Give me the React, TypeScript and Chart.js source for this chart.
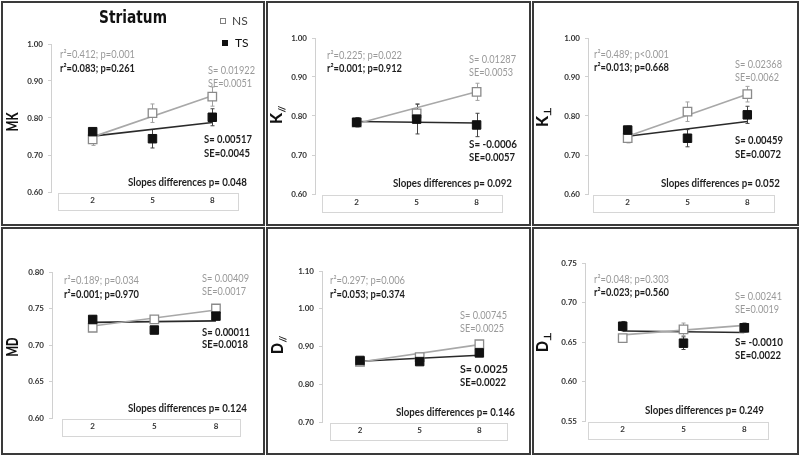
import React, { useEffect, useRef } from "react";
import { Chart, registerables } from "chart.js";

Chart.register(...registerables);

// ---------- data ----------
const ages = [2, 5, 8];

const mkNS = [0.742, 0.813, 0.858];
const mkNSErr = [0.016, 0.025, 0.026];
const mkTS = [0.763, 0.744, 0.802];
const mkTSErr = [0.01, 0.025, 0.023];
const mkNSTrend = [0.749, 0.86];
const mkTSTrend = [0.751, 0.788];

const kparNS = [0.783, 0.807, 0.862];
const kparNSErr = [0.012, 0.025, 0.022];
const kparTS = [0.784, 0.792, 0.777];
const kparTSErr = [0.012, 0.038, 0.03];
const kparNSTrend = [0.78, 0.862];
const kparTSTrend = [0.786, 0.782];

const kperpNS = [0.743, 0.811, 0.856];
const kperpNSErr = [0.012, 0.025, 0.02];
const kperpTS = [0.764, 0.743, 0.803];
const kperpTSErr = [0.01, 0.022, 0.022];
const kperpNSTrend = [0.748, 0.856];
const kperpTSTrend = [0.748, 0.786];

const mdNS = [0.7236, 0.735, 0.75];
const mdNSErr = [0.004, 0.004, 0.005];
const mdTS = [0.735, 0.7205, 0.7396];
const mdTSErr = [0.005, 0.004, 0.004];
const mdNSTrend = [0.726, 0.748];
const mdTSTrend = [0.731, 0.733];

const dparNS = [0.859, 0.872, 0.906];
const dparNSErr = [0.005, 0.006, 0.008];
const dparTS = [0.863, 0.86, 0.883];
const dparTSErr = [0.006, 0.005, 0.006];
const dparNSTrend = [0.859, 0.905];
const dparTSTrend = [0.861, 0.877];

const dperpNS = [0.655, 0.666, 0.668];
const dperpNSErr = [0.004, 0.008, 0.005];
const dperpTS = [0.67, 0.6485, 0.668];
const dperpTSErr = [0.006, 0.008, 0.006];
const dperpNSTrend = [0.659, 0.671];
const dperpTSTrend = [0.664, 0.662];

const yTitleMain = ["MK", "K", "K", "MD", "D", "D"];
const yTitleSub = ["", "//", "⊥", "", "//", "⊥"];

const r2NSLabels = ["r²=0.412; p=0.001", "r²=0.225; p=0.022", "r²=0.489; p<0.001", "r²=0.189; p=0.034", "r²=0.297; p=0.006", "r²=0.048; p=0.303"];
const r2TSLabels = ["r²=0.083; p=0.261", "r²=0.001; p=0.912", "r²=0.013; p=0.668", "r²=0.001; p=0.970", "r²=0.053; p=0.374", "r²=0.023; p=0.560"];
const slopeNSLabels = ["S= 0.01922", "S= 0.01287", "S= 0.02368", "S= 0.00409", "S= 0.00745", "S= 0.00241"];
const seNSLabels = ["SE=0.0051", "SE=0.0053", "SE=0.0062", "SE=0.0017", "SE=0.0025", "SE=0.0019"];
const slopeTSLabels = ["S= 0.00517", "S= -0.0006", "S= 0.00459", "S= 0.00011", "S= 0.0025", "S= -0.0010"];
const seTSLabels = ["SE=0.0045", "SE=0.0057", "SE=0.0072", "SE=0.0018", "SE=0.0022", "SE=0.0022"];
const slopeDiffLabels = [
  "Slopes differences p= 0.048",
  "Slopes differences p= 0.092",
  "Slopes differences p= 0.052",
  "Slopes differences p= 0.124",
  "Slopes differences p= 0.146",
  "Slopes differences p= 0.249",
];

const chartTitle = "Striatum";
const seriesNames = ["NS", "TS"];

const panelSeries = [
  { ns: mkNS, nsErr: mkNSErr, ts: mkTS, tsErr: mkTSErr, nsTrend: mkNSTrend, tsTrend: mkTSTrend },
  { ns: kparNS, nsErr: kparNSErr, ts: kparTS, tsErr: kparTSErr, nsTrend: kparNSTrend, tsTrend: kparTSTrend },
  { ns: kperpNS, nsErr: kperpNSErr, ts: kperpTS, tsErr: kperpTSErr, nsTrend: kperpNSTrend, tsTrend: kperpTSTrend },
  { ns: mdNS, nsErr: mdNSErr, ts: mdTS, tsErr: mdTSErr, nsTrend: mdNSTrend, tsTrend: mdTSTrend },
  { ns: dparNS, nsErr: dparNSErr, ts: dparTS, tsErr: dparTSErr, nsTrend: dparNSTrend, tsTrend: dparTSTrend },
  { ns: dperpNS, nsErr: dperpNSErr, ts: dperpTS, tsErr: dperpTSErr, nsTrend: dperpNSTrend, tsTrend: dperpTSTrend },
];

// ---------- layout / style ----------
const colL = [1, 266, 532];
const colW = [264, 265, 267];
const rowT = [1, 227];
const rowH = [225, 228];
const BORDER = 2;

const layoutCfg = [
  { col: 0, row: 0, left: 51, right: 238, top: 44, bottom: 192, xMin: -0.09, xMax: 9.29, yMin: 0.6, yMax: 1.0, step: 0.1, boxDx: 7, yT: [13, 122], r2: [60, 54, 68], sN: [208, 70, 83], sT: [204, 139, 153], sd: [128, 182] },
  { col: 1, row: 0, left: 315, right: 502, top: 38, bottom: 194, xMin: -0.085, xMax: 9.27, yMin: 0.6, yMax: 1.0, step: 0.1, boxDx: 7, yT: [277, 115], r2: [327, 55, 68], sN: [469, 59, 72], sT: [469, 144, 157], sd: [393, 183] },
  { col: 2, row: 0, left: 588, right: 774, top: 38, bottom: 194, xMin: 0.01, xMax: 9.34, yMin: 0.6, yMax: 1.0, step: 0.1, boxDx: 5, yT: [543, 117], r2: [594, 54, 67], sN: [735, 64, 77], sT: [735, 140, 154], sd: [661, 183] },
  { col: 0, row: 1, left: 52, right: 240, top: 272, bottom: 418, xMin: 0.02, xMax: 9.17, yMin: 0.6, yMax: 0.8, step: 0.05, boxDx: 10, yT: [13, 347], r2: [64, 280, 294], sN: [202, 278, 291], sT: [202, 332, 344], sd: [128, 408] },
  { col: 1, row: 1, left: 322, right: 507, top: 271, bottom: 422, xMin: 0.09, xMax: 9.39, yMin: 0.7, yMax: 1.1, step: 0.1, boxDx: 8, yT: [278, 345], r2: [330, 280, 294], sN: [460, 315, 328], sT: [460, 369, 382], sd: [396, 412] },
  { col: 2, row: 1, left: 585, right: 768, top: 263, bottom: 421, xMin: 0.14, xMax: 9.17, yMin: 0.55, yMax: 0.75, step: 0.05, boxDx: 3, yT: [543, 342], r2: [594, 279, 292], sN: [735, 296, 309], sT: [735, 342, 355], sd: [645, 410] },
];

const GRAY_TEXT = "#9a9a9a";
const DARK_TEXT = "#1e1e1e";
const NS_LINE = "#a8a8a8";
const TS_LINE = "#2a2a2a";
const FONT = "Lato, 'Open Sans', sans-serif";
const Y_AXIS_W = 30;
const X_AXIS_H = 20;
const ANN_SIZE = 11.5;

function PanelChart({ idx }: { idx: number }) {
  const ref = useRef<HTMLCanvasElement | null>(null);
  const L = layoutCfg[idx];
  const ox = colL[L.col] + BORDER;
  const oy = rowT[L.row] + BORDER;
  const cw = colW[L.col] - 2 * BORDER;
  const ch = rowH[L.row] - 2 * BORDER;

  useEffect(() => {
    if (!ref.current) return;
    const S = panelSeries[idx];

    const drawText = (ctx: CanvasRenderingContext2D, text: string, x: number, y: number, color: string, bold: boolean, size: number, maxW: number) => {
      ctx.save();
      ctx.font = `${bold ? "bold " : ""}${size}px ${FONT}`;
      ctx.fillStyle = color;
      ctx.textAlign = "left";
      ctx.textBaseline = "middle";
      ctx.fillText(text, x - ox, y - oy, maxW);
      ctx.restore();
    };

    const overlay = {
      id: "overlay" + idx,
      beforeDatasetsDraw(chart: any) {
        const ctx = chart.ctx as CanvasRenderingContext2D;
        const xs = chart.scales.x;
        const ys = chart.scales.y;
        const a = chart.chartArea;
        // category box
        ctx.save();
        ctx.strokeStyle = "#d6d6d6";
        ctx.lineWidth = 1;
        ctx.strokeRect(Math.round(a.left + L.boxDx) + 0.5, Math.round(a.bottom + 1) + 0.5, Math.round(a.right - a.left - L.boxDx), 17);
        ctx.restore();
        // error bars
        const drawErr = (vals: number[], errs: number[], color: string) => {
          ctx.save();
          ctx.strokeStyle = color;
          ctx.lineWidth = 1;
          vals.forEach((v, i) => {
            const x = Math.round(xs.getPixelForValue(ages[i])) + 0.5;
            const y1 = ys.getPixelForValue(v + errs[i]);
            const y2 = ys.getPixelForValue(v - errs[i]);
            ctx.beginPath();
            ctx.moveTo(x, y1);
            ctx.lineTo(x, y2);
            ctx.moveTo(x - 2, y1);
            ctx.lineTo(x + 2, y1);
            ctx.moveTo(x - 2, y2);
            ctx.lineTo(x + 2, y2);
            ctx.stroke();
          });
          ctx.restore();
        };
        drawErr(S.ns, S.nsErr, "#a0a0a0");
        drawErr(S.ts, S.tsErr, "#444444");
      },
      afterDraw(chart: any) {
        const ctx = chart.ctx as CanvasRenderingContext2D;
        // y title
        ctx.save();
        ctx.translate(L.yT[0] - ox, L.yT[1] - oy);
        ctx.rotate(-Math.PI / 2);
        ctx.fillStyle = "#111";
        ctx.textBaseline = "middle";
        ctx.textAlign = "left";
        const main = yTitleMain[idx];
        const sub = yTitleSub[idx];
        ctx.font = `900 17px ${FONT}`;
        let mw = ctx.measureText(main).width;
        const maxMain = main.length > 1 ? 19 : 11;
        if (mw > maxMain) mw = maxMain;
        ctx.font = `bold 10px ${FONT}`;
        const sw = sub ? ctx.measureText(sub).width : 0;
        const start = -(mw + sw) / 2;
        ctx.font = `900 17px ${FONT}`;
        ctx.fillText(main, start, 0, maxMain);
        if (sub) {
          ctx.font = `bold 10px ${FONT}`;
          ctx.fillText(sub, start + mw + 0.5, 4.5);
        }
        ctx.restore();

        drawText(ctx, r2NSLabels[idx], L.r2[0], L.r2[1], GRAY_TEXT, false, ANN_SIZE, 75);
        drawText(ctx, r2TSLabels[idx], L.r2[0], L.r2[2], DARK_TEXT, true, ANN_SIZE, 75);
        drawText(ctx, slopeNSLabels[idx], L.sN[0], L.sN[1], GRAY_TEXT, false, ANN_SIZE, 47);
        drawText(ctx, seNSLabels[idx], L.sN[0], L.sN[2], GRAY_TEXT, false, ANN_SIZE, 44);
        drawText(ctx, slopeTSLabels[idx], L.sT[0], L.sT[1], DARK_TEXT, true, ANN_SIZE, 48);
        drawText(ctx, seTSLabels[idx], L.sT[0], L.sT[2], DARK_TEXT, true, ANN_SIZE, 46);
        drawText(ctx, slopeDiffLabels[idx], L.sd[0], L.sd[1], DARK_TEXT, true, ANN_SIZE, 119);

        if (idx === 0) {
          ctx.save();
          ctx.font = `bold 17px 'DejaVu Sans', sans-serif`;
          ctx.fillStyle = "#111";
          ctx.textAlign = "center";
          ctx.textBaseline = "middle";
          ctx.fillText(chartTitle, 133 - ox, 19 - oy, 68);
          ctx.restore();
          // legend
          ctx.save();
          ctx.fillStyle = "#fff";
          ctx.strokeStyle = "#808080";
          ctx.lineWidth = 1;
          ctx.fillRect(220 - ox, 18 - oy, 6, 6);
          ctx.strokeRect(220.5 - ox, 18.5 - oy, 5, 5);
          ctx.fillStyle = "#111";
          ctx.fillRect(222 - ox, 40 - oy, 6, 6);
          ctx.font = `12px ${FONT}`;
          ctx.textBaseline = "middle";
          ctx.fillStyle = "#444";
          ctx.fillText(seriesNames[0], 232 - ox, 21 - oy);
          ctx.fillStyle = "#111";
          ctx.fillText(seriesNames[1], 235 - ox, 43 - oy);
          ctx.restore();
        }
      },
    };

    const pad = {
      left: L.left - ox - Y_AXIS_W,
      right: cw - (L.right - ox),
      top: L.top - oy,
      bottom: ch - (L.bottom - oy) - X_AXIS_H,
    };

    const chart = new Chart(ref.current, {
      type: "scatter",
      data: {
        datasets: [
          {
            label: seriesNames[0] + " trend",
            data: [{ x: ages[0], y: S.nsTrend[0] }, { x: ages[2], y: S.nsTrend[1] }],
            showLine: true,
            borderColor: NS_LINE,
            borderWidth: 1.6,
            pointRadius: 0,
            order: 3,
          },
          {
            label: seriesNames[1] + " trend",
            data: [{ x: ages[0], y: S.tsTrend[0] }, { x: ages[2], y: S.tsTrend[1] }],
            showLine: true,
            borderColor: TS_LINE,
            borderWidth: 1.6,
            pointRadius: 0,
            order: 3,
          },
          {
            label: seriesNames[0],
            data: ages.map((a, i) => ({ x: a, y: S.ns[i] })),
            pointStyle: "rect",
            pointRadius: 6,
            backgroundColor: "#ffffff",
            borderColor: "#8a8a8a",
            borderWidth: 1.3,
            order: 2,
          },
          {
            label: seriesNames[1],
            data: ages.map((a, i) => ({ x: a, y: S.ts[i] })),
            pointStyle: "rect",
            pointRadius: 6,
            backgroundColor: "#111111",
            borderColor: "#111111",
            borderWidth: 1,
            order: 1,
          },
        ],
      },
      options: {
        animation: false,
        responsive: false,
        devicePixelRatio: 1,
        layout: { padding: pad },
        plugins: { legend: { display: false }, tooltip: { enabled: false } },
        scales: {
          x: {
            type: "linear",
            min: L.xMin,
            max: L.xMax,
            afterBuildTicks: (s: any) => {
              s.ticks = ages.map((v) => ({ value: v }));
            },
            afterFit: (s: any) => {
              s.height = X_AXIS_H;
            },
            ticks: {
              autoSkip: false,
              padding: 4,
              color: "#333",
              font: { size: 8, weight: "bold", family: FONT },
              callback: (v: any) => String(v),
            },
            grid: { display: false, drawTicks: false },
            border: { display: false },
          },
          y: {
            min: L.yMin,
            max: L.yMax,
            afterFit: (s: any) => {
              s.width = Y_AXIS_W;
            },
            ticks: {
              stepSize: L.step,
              padding: 5,
              color: "#333",
              font: { size: 8, weight: "bold", family: FONT },
              callback: (v: any) => Number(v).toFixed(2),
            },
            grid: { display: true, drawOnChartArea: false, drawTicks: true, tickLength: 3, color: "#d0d0d0" },
            border: { display: true, color: "#d0d0d0" },
          },
        },
      } as any,
      plugins: [overlay],
    });
    return () => chart.destroy();
  }, [idx]);

  return (
    <div
      style={{
        position: "absolute",
        left: colL[L.col],
        top: rowT[L.row],
        width: colW[L.col],
        height: rowH[L.row],
        boxSizing: "border-box",
        border: `${BORDER}px solid #3a3a3a`,
        background: "#fff",
      }}
    >
      <canvas ref={ref} width={cw} height={ch} style={{ display: "block", width: cw, height: ch }} />
    </div>
  );
}

export default function App() {
  return (
    <div style={{ position: "fixed", left: 0, top: 0, width: 800, height: 456, background: "#fff", overflow: "hidden" }}>
      {layoutCfg.map((_, i) => (
        <PanelChart key={i} idx={i} />
      ))}
    </div>
  );
}
